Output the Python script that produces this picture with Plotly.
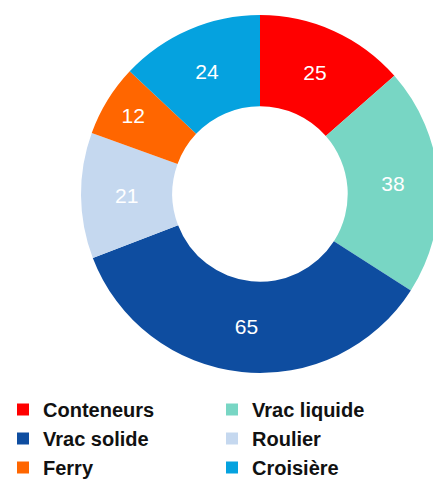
import plotly.graph_objects as go

categories = ["Conteneurs", "Vrac liquide", "Vrac solide", "Roulier", "Ferry", "Croisière"]
values = [25, 38, 65, 21, 12, 24]
colors = ["#FF0000", "#78D6C4", "#0E4DA0", "#C5D8EF", "#FF6600", "#05A2DF"]

W, H = 460, 487

fig = go.Figure(go.Pie(
    labels=categories,
    values=values,
    sort=False,
    direction="clockwise",
    rotation=0,
    hole=0.49,
    marker=dict(colors=colors, line=dict(width=0)),
    textinfo="value",
    textposition="inside",
    insidetextorientation="horizontal",
    textfont=dict(family="Liberation Sans", size=21, color="white"),
    domain=dict(x=[81 / W, 439 / W], y=[(H - 373) / H, (H - 15) / H]),
))

fig.update_layout(
    width=W, height=H,
    margin=dict(l=0, r=0, t=0, b=0),
    paper_bgcolor="white",
    showlegend=True,
    legend=dict(
        orientation="h",
        x=3 / W, xanchor="left",
        y=0, yanchor="bottom",
        entrywidth=164, entrywidthmode="pixels",
        font=dict(family="Liberation Sans", size=20, color="#111111", weight="bold"),
        itemclick=False,
        tracegroupgap=0,
    ),
)

fig.write_html(
    "out.html",
    config={"displayModeBar": False},
    post_script="document.body.style.margin='0';document.body.style.overflow='hidden';document.documentElement.style.overflow='hidden';",
)
